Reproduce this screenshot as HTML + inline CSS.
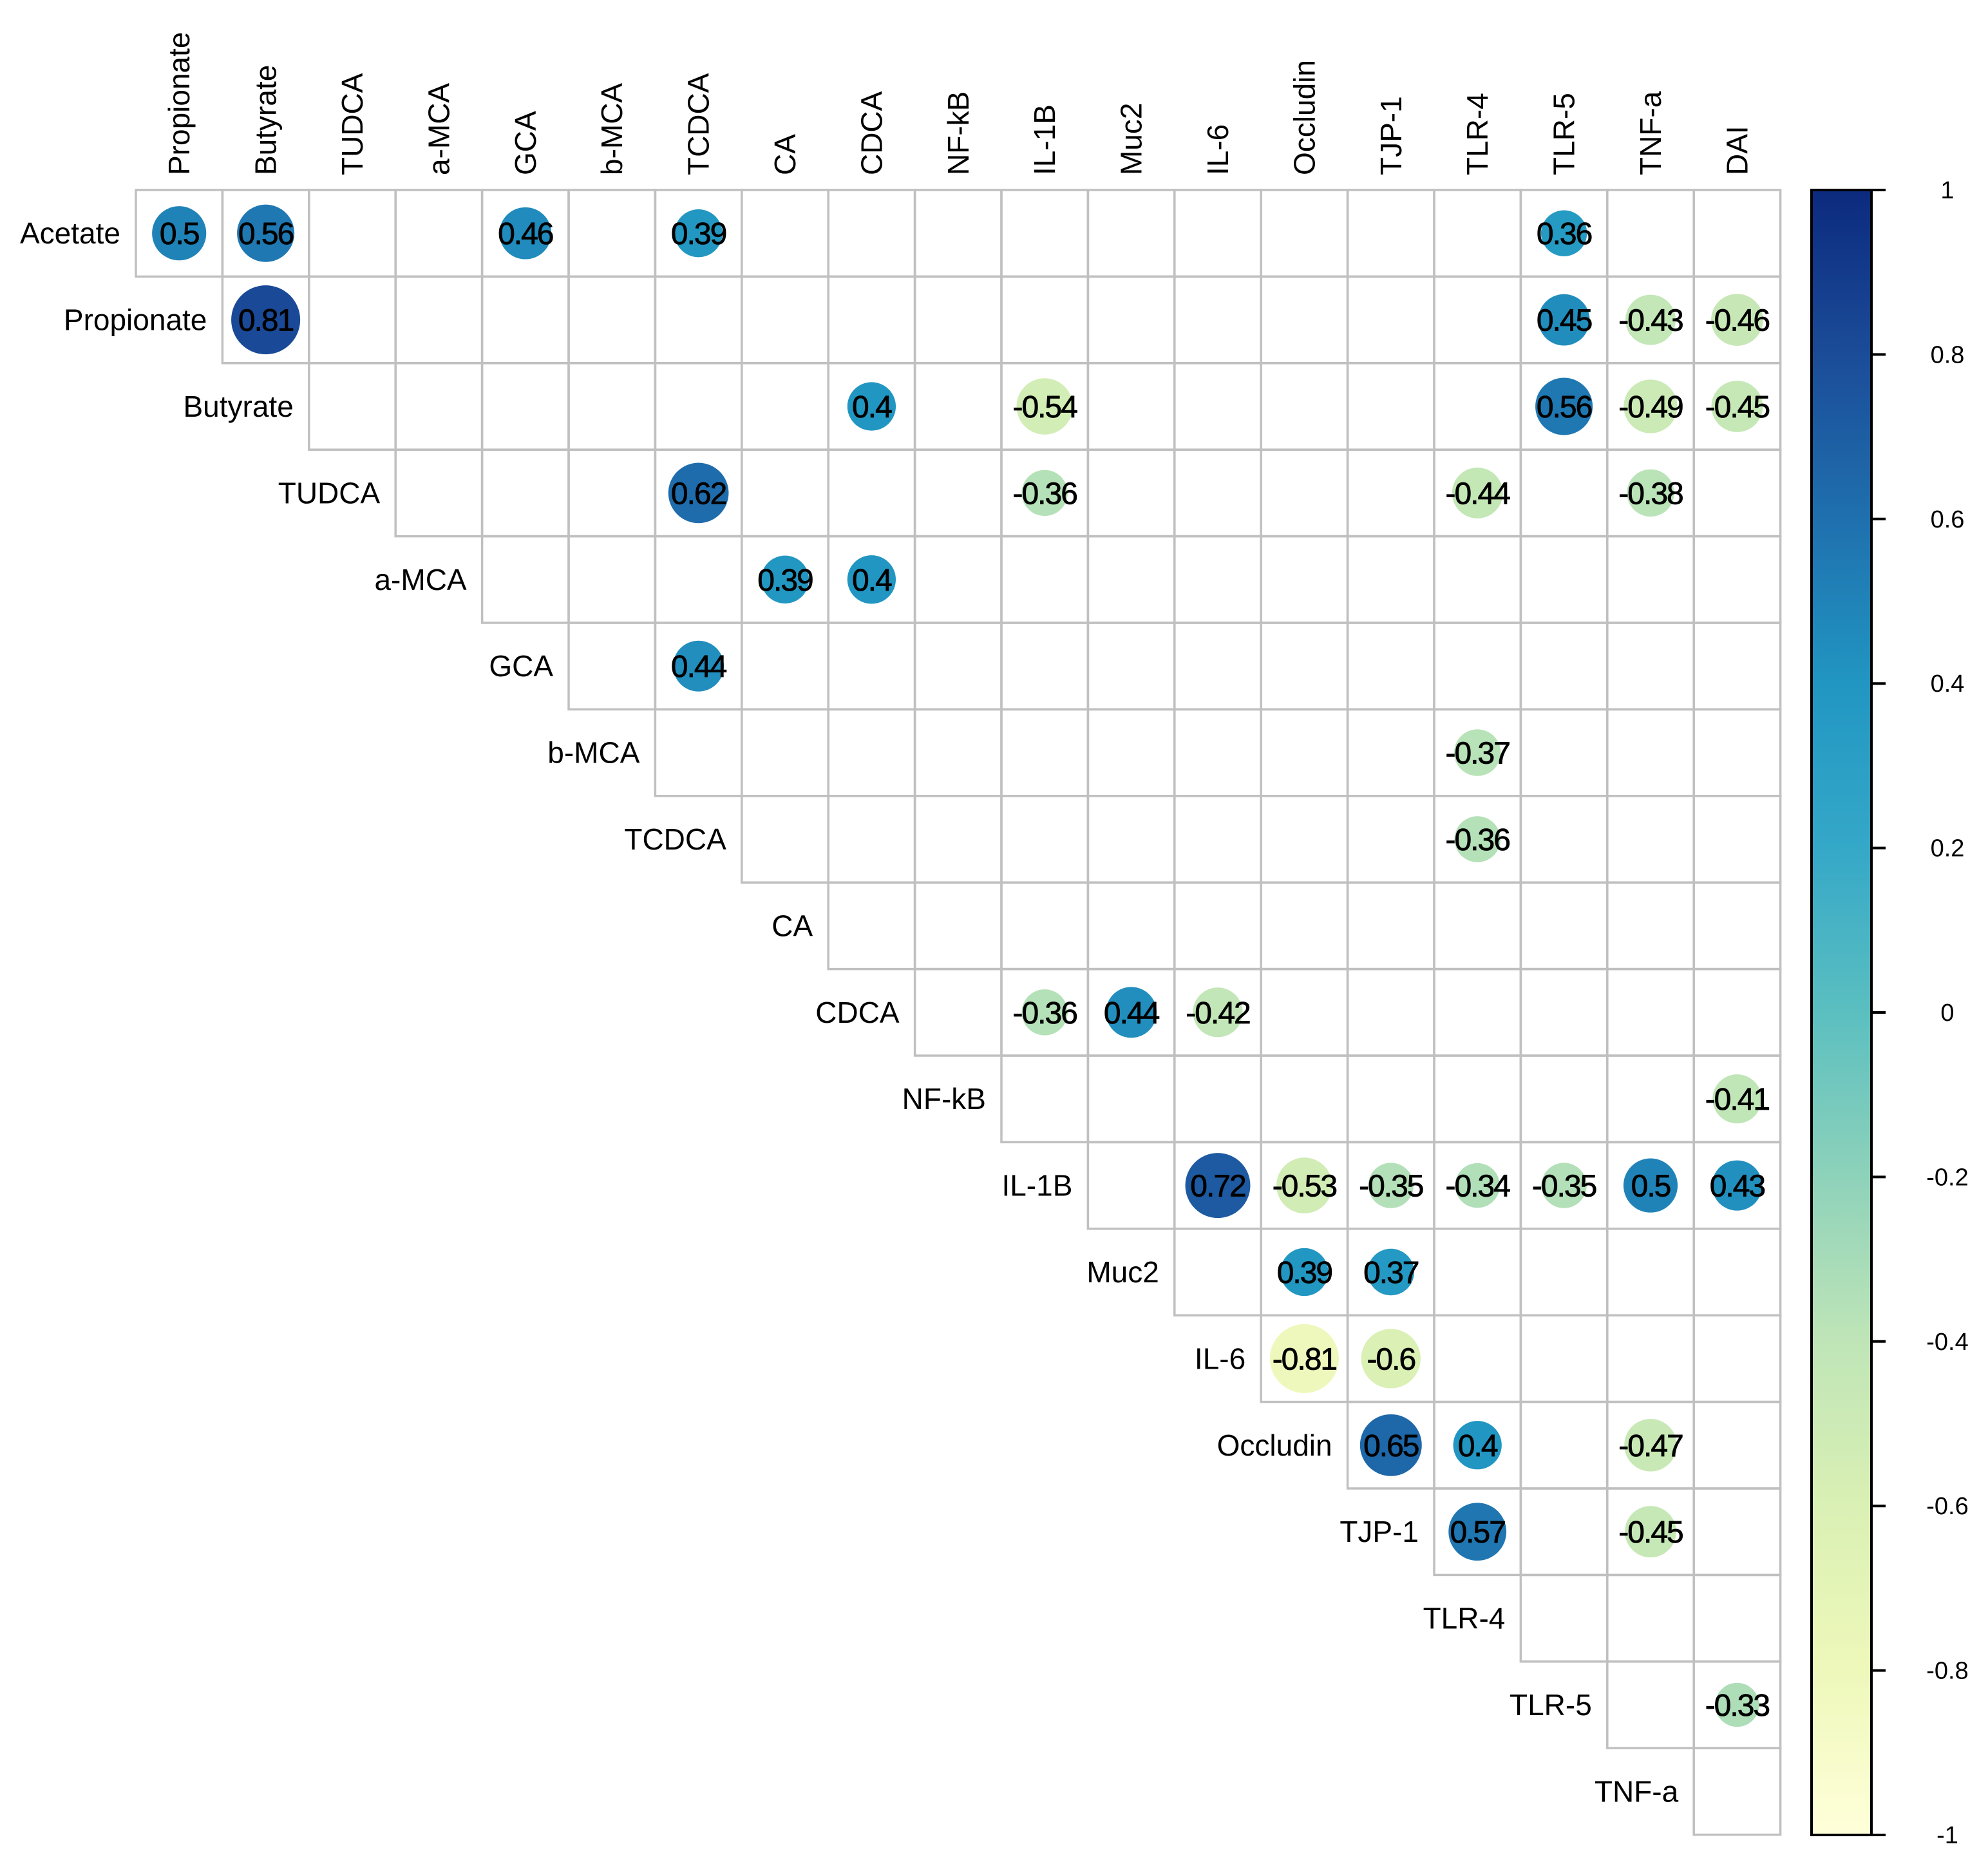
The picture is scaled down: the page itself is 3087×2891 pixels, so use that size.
<!DOCTYPE html>
<html><head><meta charset="utf-8"><style>
html,body{margin:0;padding:0;background:#fff;}
svg{display:block;font-family:"Liberation Sans",Arial,sans-serif;}
</style></head>
<body>
<svg id="chart" width="3087" height="2891" viewBox="0 0 3087 2891" xmlns="http://www.w3.org/2000/svg">
<defs>
<linearGradient id="cbar" x1="0" y1="1" x2="0" y2="0">
<stop offset="0" stop-color="#FFFFD9"/><stop offset="0.1" stop-color="#EEF8BA"/>
<stop offset="0.2" stop-color="#DAF0B4"/><stop offset="0.3" stop-color="#BFE5B7"/>
<stop offset="0.4" stop-color="#8ED2BA"/><stop offset="0.5" stop-color="#5BBFC0"/>
<stop offset="0.6" stop-color="#35A8C8"/><stop offset="0.7" stop-color="#2196C2"/>
<stop offset="0.8" stop-color="#1F70AE"/><stop offset="0.9" stop-color="#1B4C98"/>
<stop offset="1" stop-color="#0C2A7E"/>
</linearGradient>
</defs>
<g id="grid"></g>
<g id="marks"></g>
<g id="labels"></g>
<g id="legend"></g>
</svg>
<script>
const variables = ["Acetate","Propionate","Butyrate","TUDCA","a-MCA","GCA","b-MCA","TCDCA","CA","CDCA","NF-kB","IL-1B","Muc2","IL-6","Occludin","TJP-1","TLR-4","TLR-5","TNF-a","DAI"];
const pairA = ["Acetate","Acetate","Acetate","Acetate","Acetate",
 "Propionate","Propionate","Propionate","Propionate",
 "Butyrate","Butyrate","Butyrate","Butyrate","Butyrate",
 "TUDCA","TUDCA","TUDCA","TUDCA",
 "a-MCA","a-MCA","GCA","b-MCA","TCDCA",
 "CDCA","CDCA","CDCA","NF-kB",
 "IL-1B","IL-1B","IL-1B","IL-1B","IL-1B","IL-1B","IL-1B",
 "Muc2","Muc2","IL-6","IL-6",
 "Occludin","Occludin","Occludin","TJP-1","TJP-1","TLR-5"];
const pairB = ["Propionate","Butyrate","GCA","TCDCA","TLR-5",
 "Butyrate","TLR-5","TNF-a","DAI",
 "CDCA","IL-1B","TLR-5","TNF-a","DAI",
 "TCDCA","IL-1B","TLR-4","TNF-a",
 "CA","CDCA","TCDCA","TLR-4","TLR-4",
 "IL-1B","Muc2","IL-6","DAI",
 "IL-6","Occludin","TJP-1","TLR-4","TLR-5","TNF-a","DAI",
 "Occludin","TJP-1","Occludin","TJP-1",
 "TJP-1","TLR-4","TNF-a","TLR-4","TNF-a","DAI"];
const corrValues = [0.5,0.56,0.46,0.39,0.36,
 0.81,0.45,-0.43,-0.46,
 0.4,-0.54,0.56,-0.49,-0.45,
 0.62,-0.36,-0.44,-0.38,
 0.39,0.4,0.44,-0.37,-0.36,
 -0.36,0.44,-0.42,-0.41,
 0.72,-0.53,-0.35,-0.34,-0.35,0.5,0.43,
 0.39,0.37,-0.81,-0.6,
 0.65,0.4,-0.47,0.57,-0.45,-0.33];
const legendTicks = [1,0.8,0.6,0.4,0.2,0,-0.2,-0.4,-0.6,-0.8,-1];

const NS="http://www.w3.org/2000/svg";
const L=211, T=295, C=134.4, N=19, RMAX=59.5;
const cbX=2813, cbW=93, cbTop=295, cbBot=2849;
function colX(j){return L+j*C;}
function rowY(i){return T+i*C;}
function yLegend(v){return cbTop+(1-v)/2*(cbBot-cbTop);}
const stops=[[-1,[255,255,217]],[-0.8,[238,248,186]],[-0.6,[218,240,180]],[-0.4,[191,229,183]],[-0.2,[142,210,186]],[0,[91,191,192]],[0.2,[53,168,200]],[0.4,[33,150,194]],[0.6,[31,112,174]],[0.8,[27,76,152]],[1,[12,42,126]]];
function colorOf(v){
  for(let k=0;k<stops.length-1;k++){
    const a=stops[k],b=stops[k+1];
    if(v<=b[0]){const t=(v-a[0])/(b[0]-a[0]);
      const c=a[1].map((x,m)=>Math.round(x+(b[1][m]-x)*t));return `rgb(${c[0]},${c[1]},${c[2]})`;}
  }
  return "rgb(12,42,126)";
}
function mk(tag,attrs,parent){const e=document.createElementNS(NS,tag);for(const k in attrs)e.setAttribute(k,attrs[k]);parent.appendChild(e);return e;}

const grid=document.getElementById('grid');
for(let i=0;i<N;i++){
  for(let j=i;j<N;j++){
    const r=mk('rect',{x:colX(j),y:rowY(i),width:C,height:C,fill:'none',stroke:'#C0C0C0','stroke-width':3.5},grid);
    
    
  }
}
const labels=document.getElementById('labels');
for(let i=0;i<N;i++){
  const t=mk('text',{x:colX(i)-24,y:rowY(i)+C/2+16,'text-anchor':'end','font-size':46,fill:'#000'},labels);
  t.textContent=variables[i];
  
  
}
for(let j=0;j<N;j++){
  const cx=colX(j)+C/2+16, y=272;
  const t=mk('text',{x:cx,y:y,transform:`rotate(-90 ${cx} ${y})`,'font-size':46,fill:'#000'},labels);
  t.textContent=variables[j+1];
  
  
}
const marks=document.getElementById('marks');
for(let k=0;k<corrValues.length;k++){
  const i=variables.indexOf(pairA[k]), j=variables.indexOf(pairB[k])-1;
  const v=corrValues[k];
  const cx=colX(j)+C/2, cy=rowY(i)+C/2;
  const c=mk('circle',{cx:cx,cy:cy,r:RMAX*Math.sqrt(Math.abs(v)),fill:colorOf(v)},marks);
  
  
  const t=mk('text',{x:cx,y:cy+17,'text-anchor':'middle','font-size':48,fill:'#000','letter-spacing':-2,stroke:'#000','stroke-width':0.8},marks);
  t.textContent=String(v);
  
  
}
const legend=document.getElementById('legend');
const bar=mk('rect',{x:cbX,y:cbTop,width:cbW,height:cbBot-cbTop,fill:'url(#cbar)',stroke:'#000','stroke-width':4},legend);


for(const v of legendTicks){
  const y=yLegend(v);
  const l=mk('line',{x1:cbX+cbW,x2:cbX+cbW+22,y1:y,y2:y,stroke:'#000','stroke-width':4},legend);
  
  
  const t=mk('text',{x:3024,y:y+13,'text-anchor':'middle','font-size':38,fill:'#000'},legend);
  t.textContent=String(v);
  
  
}
</script>
</body></html>
